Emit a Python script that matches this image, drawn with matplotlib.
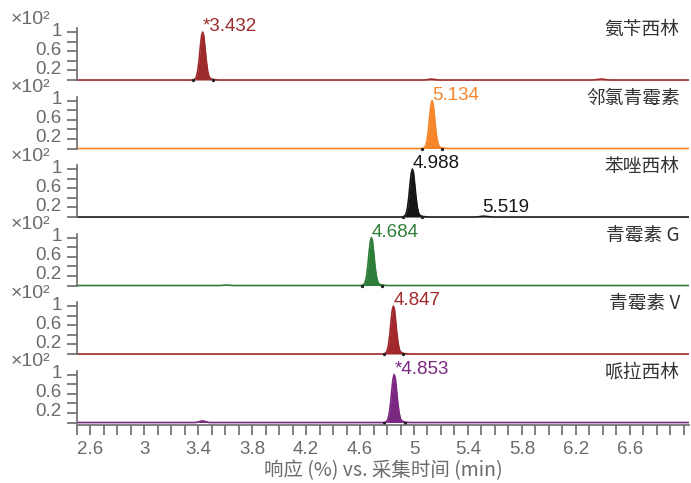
import matplotlib.pyplot as plt
import matplotlib.transforms as mtransforms

plt.rcParams['font.family'] = ['Liberation Sans', 'Noto Sans CJK SC', 'DejaVu Sans']

# compound names and colours, top to bottom
names = ['氨苄西林', '邻氯青霉素', '苯唑西林', '青霉素 G', '青霉素 V', '哌拉西林']
colors = ['#9c2a2b', '#f5862c', '#161616', '#2e7d38', '#a1282b', '#7b2882']

# peak labels
lab_t = [3.432, 5.134, 4.988, 4.684, 4.847, 4.853]
lab_txt = ['*3.432', '5.134', '4.988', '4.684', '4.847', '*4.853']
extra_t = [None, None, 5.519, None, None, None]
extra_txt = [None, None, '5.519', None, None, None]

# traces (time in min, response x10^2 %)
t1 = [2.5, 3.35, 3.37, 3.385, 3.395, 3.405, 3.415, 3.424, 3.432, 3.44, 3.448, 3.458, 3.468, 3.478, 3.49, 3.51, 3.55,
      5.08, 5.13, 5.18, 6.33, 6.39, 6.45, 7.04]
r1 = [0, 0, 0.008, 0.06, 0.18, 0.40, 0.70, 0.92, 1.0, 0.93, 0.72, 0.43, 0.21, 0.08, 0.03, 0.01, 0,
      0, 0.02, 0, 0, 0.02, 0, 0]

t2 = [2.5, 5.052, 5.072, 5.087, 5.097, 5.107, 5.117, 5.126, 5.134, 5.142, 5.15, 5.16, 5.17, 5.18, 5.192, 5.212, 5.252, 7.04]
r2 = [0, 0, 0.008, 0.06, 0.18, 0.40, 0.70, 0.92, 1.0, 0.93, 0.72, 0.43, 0.21, 0.08, 0.03, 0.01, 0, 0]

t3 = [2.5, 4.906, 4.926, 4.941, 4.951, 4.961, 4.971, 4.98, 4.988, 4.996, 5.004, 5.014, 5.024, 5.034, 5.046, 5.066, 5.106,
      5.46, 5.519, 5.58, 7.04]
r3 = [0, 0, 0.008, 0.06, 0.18, 0.40, 0.70, 0.92, 1.0, 0.93, 0.72, 0.43, 0.21, 0.08, 0.03, 0.01, 0,
      0, 0.018, 0, 0]

t4 = [2.5, 3.56, 3.61, 3.66, 4.602, 4.622, 4.637, 4.647, 4.657, 4.667, 4.676, 4.684, 4.692, 4.7, 4.71, 4.72, 4.73, 4.742,
      4.762, 4.802, 7.04]
r4 = [0, 0, 0.01, 0, 0, 0.008, 0.06, 0.18, 0.40, 0.70, 0.92, 1.0, 0.93, 0.72, 0.43, 0.21, 0.08, 0.03,
      0.01, 0, 0]

t5 = [2.5, 4.765, 4.785, 4.8, 4.81, 4.82, 4.83, 4.839, 4.847, 4.855, 4.863, 4.873, 4.883, 4.893, 4.905, 4.925, 4.965, 7.04]
r5 = [0, 0, 0.008, 0.06, 0.18, 0.40, 0.70, 0.92, 1.0, 0.93, 0.72, 0.43, 0.21, 0.08, 0.03, 0.01, 0, 0]

t6 = [2.5, 3.38, 3.432, 3.48, 4.771, 4.791, 4.806, 4.816, 4.826, 4.836, 4.845, 4.853, 4.861, 4.869, 4.879, 4.889, 4.899,
      4.911, 4.931, 4.971, 7.04]
r6 = [0, 0, 0.035, 0, 0, 0.008, 0.06, 0.18, 0.40, 0.70, 0.92, 1.0, 0.93, 0.72, 0.43, 0.21, 0.08, 0.03,
      0.01, 0, 0]

times = [t1, t2, t3, t4, t5, t6]
resp = [r1, r2, r3, r4, r5, r6]

# integration markers (start, end)
marks = [[3.36, 3.51], [5.06, 5.21], [4.92, 5.06], [4.615, 4.76], [4.775, 4.92], [4.78, 4.93]]

W, H = 691, 483
fig = plt.figure(figsize=(W / 100, H / 100), dpi=100)
grey = '#6b6b6b'
up = mtransforms.ScaledTranslation(0, 3 / 100, fig.dpi_scale_trans)

for i in range(6):
    base = 80 + 68.5 * i
    ax = fig.add_axes([77 / W, 1 - (base + 2.9) / H, (689 - 77) / W, 54.7 / H])
    ax.plot(times[i], resp[i], color=colors[i], lw=1.2)
    ax.fill_between(times[i], resp[i], 0, color=colors[i], lw=0)
    ax.plot(marks[i], [0, 0], 'o', color='#222222', ms=1.4)
    ax.set_xlim(2.5, 7.04)
    ax.set_ylim(-0.06, 1.08)
    for s in ['top', 'right']:
        ax.spines[s].set_visible(False)
    ax.spines['left'].set_bounds(0, 1.08)
    ax.spines['left'].set_color(grey)
    ax.spines['left'].set_linewidth(1.2)
    ax.set_yticks([0, 0.2, 0.4, 0.6, 0.8, 1.0])
    ax.set_yticklabels(['', '0.2', '', '0.6', '', '1'])
    ax.tick_params(axis='y', colors=grey, labelsize=13.5, length=7, width=1.2, pad=4)
    for lbl in ax.get_yticklabels():
        lbl.set_transform(lbl.get_transform() + up)
    ax.text(-0.108, 1.16, '×10²', transform=ax.transAxes, fontsize=14, color=grey, ha='left', va='center')
    ax.text(0.985, 0.97, names[i], transform=ax.transAxes, fontsize=13.5, color='#333333',
            ha='right', va='center', family=['Noto Sans CJK SC', 'Liberation Sans'])
    ax.text(lab_t[i], 0.93, lab_txt[i], fontsize=13.5, color=colors[i], ha='left', va='bottom')
    if extra_t[i] is not None:
        ax.text(extra_t[i] - 0.01, 0.02, extra_txt[i], fontsize=13.5, color=colors[i], ha='left', va='bottom')
    if i < 5:
        ax.spines['bottom'].set_visible(False)
        ax.set_xticks([])
    else:
        ax.spines['bottom'].set_color(grey)
        ax.spines['bottom'].set_linewidth(1.2)
        ax.set_xticks([2.6, 3.0, 3.4, 3.8, 4.2, 4.6, 5.0, 5.4, 5.8, 6.2, 6.6])
        ax.set_xticklabels(['2.6', '3', '3.4', '3.8', '4.2', '4.6', '5', '5.4', '5.8', '6.2', '6.6'])
        ax.set_xticks([x / 10 for x in range(25, 71)], minor=True)
        ax.tick_params(axis='x', which='both', colors=grey, labelsize=13.5, length=7, width=1.2, pad=4)
        ax.set_xlabel('响应 (%) vs. 采集时间 (min)', fontsize=14, color=grey, labelpad=2,
                      family=['Noto Sans CJK SC', 'Liberation Sans'])

fig.savefig('out.png', dpi=100)
